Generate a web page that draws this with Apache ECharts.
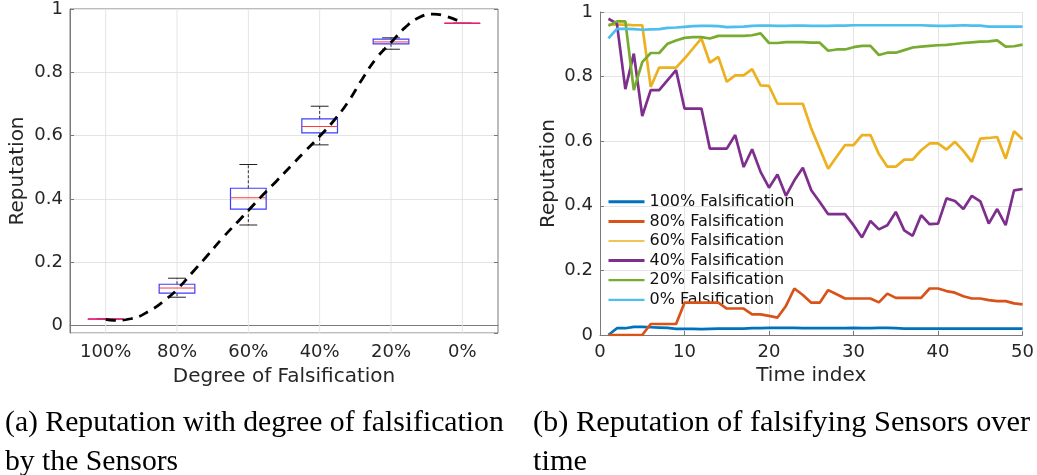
<!DOCTYPE html>
<html><head><meta charset="utf-8">
<script src="https://cdn.jsdelivr.net/npm/echarts@6/dist/echarts.min.js"></script>
<style>html,body{margin:0;padding:0;background:#fff}#c{width:1037px;height:475px}</style>
</head><body><div id="c"></div>
<script>
// ---- Left chart: box plots ----
const categories = ['100%', '80%', '60%', '40%', '20%', '0%'];
const boxMin = [0.0208, 0.090, 0.318, 0.571, 0.873, 0.9548];
const boxQ1  = [0.0208, 0.103, 0.368, 0.609, 0.890, 0.9548];
const boxMed = [0.0210, 0.119, 0.404, 0.629, 0.896, 0.9550];
const boxQ3  = [0.0212, 0.131, 0.434, 0.653, 0.905, 0.9552];
const boxMax = [0.0212, 0.150, 0.509, 0.693, 0.909, 0.9552];
// fitted dashed curve (x in category units: 1 = 100%, 6 = 0%)
const curveX = [1.0, 1.12, 1.35, 1.6, 1.86, 2.0, 2.23, 2.42, 2.65, 2.86, 3.0, 3.2, 3.4, 3.6, 3.8, 4.0, 4.2, 4.4, 4.6, 4.8, 5.0, 5.2, 5.4, 5.59, 5.77, 6.0];
const curveY = [0.020, 0.017, 0.022, 0.045, 0.086, 0.114, 0.172, 0.220, 0.280, 0.330, 0.364, 0.412, 0.458, 0.505, 0.552, 0.598, 0.648, 0.707, 0.780, 0.846, 0.894, 0.942, 0.974, 0.984, 0.977, 0.957];

// ---- Right chart: reputation over time ----
const timeIndex = Array.from({length: 50}, (_, i) => i + 1);
const seriesNames = ['100% Falsification', '80% Falsification', '60% Falsification', '40% Falsification', '20% Falsification', '0% Falsification'];
const rep100 = [0,0.021,0.021,0.025,0.025,0.024,0.023,0.022,0.019,0.019,0.019,0.018,0.019,0.020,0.020,0.020,0.020,0.021,0.021,0.022,0.022,0.022,0.022,0.021,0.021,0.021,0.021,0.021,0.021,0.022,0.021,0.021,0.022,0.022,0.021,0.020,0.020,0.020,0.020,0.020,0.020,0.020,0.020,0.020,0.020,0.020,0.020,0.020,0.020,0.020];
const rep80 = [0,0,0,0,0,0.034,0.034,0.034,0.034,0.100,0.100,0.100,0.100,0.100,0.082,0.082,0.082,0.064,0.064,0.059,0.054,0.090,0.144,0.124,0.100,0.100,0.139,0.126,0.113,0.113,0.113,0.113,0.101,0.128,0.115,0.115,0.115,0.115,0.144,0.144,0.136,0.131,0.120,0.113,0.113,0.108,0.105,0.105,0.098,0.095];
const rep60 = [0.961,0.961,0.961,0.959,0.959,0.768,0.828,0.828,0.828,0.856,0.887,0.918,0.843,0.861,0.784,0.804,0.804,0.823,0.773,0.771,0.716,0.716,0.716,0.716,0.639,0.577,0.515,0.552,0.588,0.588,0.619,0.619,0.560,0.521,0.521,0.543,0.543,0.572,0.593,0.593,0.574,0.598,0.570,0.536,0.608,0.610,0.613,0.546,0.631,0.606];
const rep40 = [0.979,0.964,0.761,0.871,0.678,0.758,0.758,0.789,0.820,0.701,0.701,0.701,0.577,0.577,0.577,0.619,0.520,0.575,0.505,0.456,0.497,0.431,0.479,0.518,0.448,0.412,0.374,0.374,0.374,0.340,0.302,0.353,0.327,0.340,0.381,0.324,0.307,0.371,0.343,0.345,0.423,0.415,0.390,0.431,0.414,0.345,0.390,0.340,0.448,0.452];
const rep20 = [0.957,0.971,0.971,0.758,0.845,0.873,0.873,0.902,0.912,0.920,0.922,0.922,0.918,0.926,0.926,0.926,0.926,0.928,0.934,0.904,0.904,0.907,0.907,0.907,0.905,0.905,0.880,0.884,0.884,0.891,0.895,0.895,0.867,0.874,0.874,0.882,0.890,0.893,0.895,0.897,0.898,0.901,0.904,0.906,0.908,0.909,0.912,0.893,0.894,0.899];
const rep0 = [0.918,0.948,0.948,0.947,0.945,0.946,0.947,0.951,0.952,0.954,0.956,0.957,0.957,0.956,0.953,0.954,0.955,0.957,0.958,0.958,0.957,0.957,0.958,0.958,0.957,0.957,0.957,0.958,0.958,0.959,0.959,0.959,0.959,0.959,0.959,0.959,0.959,0.959,0.958,0.957,0.957,0.958,0.959,0.958,0.958,0.955,0.955,0.955,0.955,0.955];
const repSeries = [rep100, rep80, rep60, rep40, rep20, rep0];
const colors = ['#0072BD', '#D95319', '#EDB120', '#7E2F8E', '#77AC30', '#4DBEEE'];
const legendWidths = [3, 3, 1.6, 3, 2.2, 2.2];

const captionA = '(a) Reputation with degree of falsification\nby the Sensors';
const captionB = '(b) Reputation of falsifying Sensors over\ntime';

const FONT = 'DejaVu Sans';
const TXT = '#262626';
const AXC = '#7a7a7a';
const GRIDC = '#e4e4e4';

const boxData = categories.map((c, i) => [i, boxMin[i], boxQ1[i], boxMed[i], boxQ3[i], boxMax[i]]);

function renderBox(params, api) {
  const i = api.value(0);
  const cs = params.coordSys;
  const band = api.size([1, 0])[0];
  const bw = band * 0.5, cw = band * 0.25;
  const pMin = api.coord([i, api.value(1)]);
  const pQ1 = api.coord([i, api.value(2)]);
  const pMed = api.coord([i, api.value(3)]);
  const pQ3 = api.coord([i, api.value(4)]);
  const pMax = api.coord([i, api.value(5)]);
  const x = pMed[0];
  const wh = {stroke: '#333', lineWidth: 1, lineDash: [3, 2]};
  const h = pQ1[1] - pQ3[1];
  return {
    type: 'group',
    children: [
      {type: 'line', z2: -10, shape: {x1: x, y1: cs.y, x2: x, y2: cs.y + cs.height}, style: {stroke: GRIDC, lineWidth: 1}},
      {type: 'line', shape: {x1: x, y1: pQ3[1], x2: x, y2: pMax[1]}, style: wh},
      {type: 'line', shape: {x1: x, y1: pQ1[1], x2: x, y2: pMin[1]}, style: wh},
      {type: 'line', shape: {x1: x - cw / 2, y1: pMax[1], x2: x + cw / 2, y2: pMax[1]}, style: {stroke: '#222', lineWidth: 1}},
      {type: 'line', shape: {x1: x - cw / 2, y1: pMin[1], x2: x + cw / 2, y2: pMin[1]}, style: {stroke: '#222', lineWidth: 1}},
      {type: 'rect', shape: {x: x - bw / 2, y: pQ3[1], width: bw, height: Math.max(h, 0.3)},
       style: {fill: 'rgba(255,255,255,0)', stroke: h < 2 ? '#b04dd0' : '#3d3dff', lineWidth: h < 2 ? 0.8 : 1.2}},
      {type: 'line', shape: {x1: x - bw / 2, y1: pMed[1], x2: x + bw / 2, y2: pMed[1]}, style: {stroke: h < 2 ? '#e8206a' : '#ff3a3a', lineWidth: h < 2 ? 1.4 : 1}}
    ]
  };
}

const chart = echarts.init(document.getElementById('c'), null, {renderer: 'canvas'});
const option = {
  animation: false,
  backgroundColor: '#fff',
  textStyle: {fontFamily: FONT},
  grid: [
    {left: 70, top: 6, width: 428, height: 327, show: true, borderColor: AXC, borderWidth: 1, backgroundColor: 'transparent'},
    {left: 600, top: 12, width: 423, height: 323}
  ],
  xAxis: [
    {gridIndex: 0, type: 'category', data: categories, position: 'bottom',
     axisLine: {lineStyle: {color: AXC}}, axisTick: {inside: true, alignWithLabel: true, length: 4, lineStyle: {color: AXC}},
     axisLabel: {color: TXT, fontSize: 18, fontFamily: FONT, margin: 10},
     splitLine: {show: false},
     name: 'Degree of Falsification', nameLocation: 'middle', nameGap: 34,
     nameTextStyle: {color: TXT, fontSize: 20, fontFamily: FONT}},
    {gridIndex: 0, type: 'category', data: categories, position: 'top',
     axisLine: {show: false}, axisTick: {inside: true, alignWithLabel: true, length: 4, lineStyle: {color: AXC}},
     axisLabel: {show: false}, splitLine: {show: false}},
    {gridIndex: 0, type: 'value', min: 0.5, max: 6.5, show: false, splitLine: {show: false}},
    {gridIndex: 1, type: 'value', min: 0, max: 50, interval: 10,
     axisLine: {show: true, onZero: false, lineStyle: {color: AXC}}, axisTick: {inside: true, length: 4, lineStyle: {color: AXC}},
     axisLabel: {color: TXT, fontSize: 18, fontFamily: FONT, margin: 8},
     splitLine: {show: true, lineStyle: {color: GRIDC}},
     name: 'Time index', nameLocation: 'middle', nameGap: 31,
     nameTextStyle: {color: TXT, fontSize: 20, fontFamily: FONT}}
  ],
  yAxis: [
    {gridIndex: 0, type: 'value', min: -0.023, max: 1,
     axisLine: {show: true, lineStyle: {color: AXC}}, axisTick: {inside: true, length: 4, lineStyle: {color: AXC}},
     axisLabel: {color: TXT, fontSize: 18, fontFamily: FONT, margin: 7, showMinLabel: false},
     splitLine: {show: true, lineStyle: {color: GRIDC}},
     name: 'Reputation', nameLocation: 'middle', nameGap: 42,
     nameTextStyle: {color: TXT, fontSize: 20, fontFamily: FONT}},
    {gridIndex: 0, type: 'value', min: -0.023, max: 1, position: 'right',
     axisLine: {show: false}, axisTick: {show: true, inside: true, length: 4, lineStyle: {color: AXC}},
     axisLabel: {show: false}, splitLine: {show: false}},
    {gridIndex: 1, type: 'value', min: 0, max: 1, interval: 0.2,
     axisLine: {show: true, lineStyle: {color: AXC}}, axisTick: {show: true, inside: true, length: 4, lineStyle: {color: AXC}},
     axisLabel: {color: TXT, fontSize: 18, fontFamily: FONT, margin: 7},
     splitLine: {show: true, lineStyle: {color: GRIDC}},
     name: 'Reputation', nameLocation: 'middle', nameGap: 41,
     nameTextStyle: {color: TXT, fontSize: 20, fontFamily: FONT}}
  ],
  legend: {
    show: true, orient: 'vertical', left: 607, top: 192, padding: 0,
    itemWidth: 36, itemHeight: 12, itemGap: 0,
    textStyle: {fontSize: 16, lineHeight: 19.6, color: '#111', fontFamily: FONT},
    data: seriesNames.map((n, i) => ({name: n, itemStyle: {opacity: 0}, lineStyle: {width: legendWidths[i]}}))
  },
  series: [
    {type: 'custom', name: 'box', xAxisIndex: 0, yAxisIndex: 0, data: boxData,
     encode: {x: 0, y: [1, 2, 3, 4, 5]}, renderItem: renderBox, z: 3},
    {type: 'line', name: 'fit', xAxisIndex: 2, yAxisIndex: 0, smooth: true, symbol: 'none',
     data: curveX.map((x, i) => [x, curveY[i]]),
     lineStyle: {color: '#000', width: 2.8, type: [10, 7]}, z: 4},
    ...seriesNames.map((n, k) => ({
      type: 'line', name: n, xAxisIndex: 3, yAxisIndex: 2, symbol: 'none',
      data: timeIndex.map((t, i) => [t, repSeries[k][i]]),
      itemStyle: {color: colors[k]},
      lineStyle: {color: colors[k], width: 2.7}, z: 3 + k
    }))
  ],
  graphic: [
    {type: 'text', left: 5, top: 404, style: {text: captionA, font: '29.7px "Liberation Serif"', fill: '#000', lineHeight: 39}},
    {type: 'text', left: 533, top: 404, style: {text: captionB, font: '30.4px "Liberation Serif"', fill: '#000', lineHeight: 39}}
  ]
};
chart.setOption(option);
</script>
</body></html>
